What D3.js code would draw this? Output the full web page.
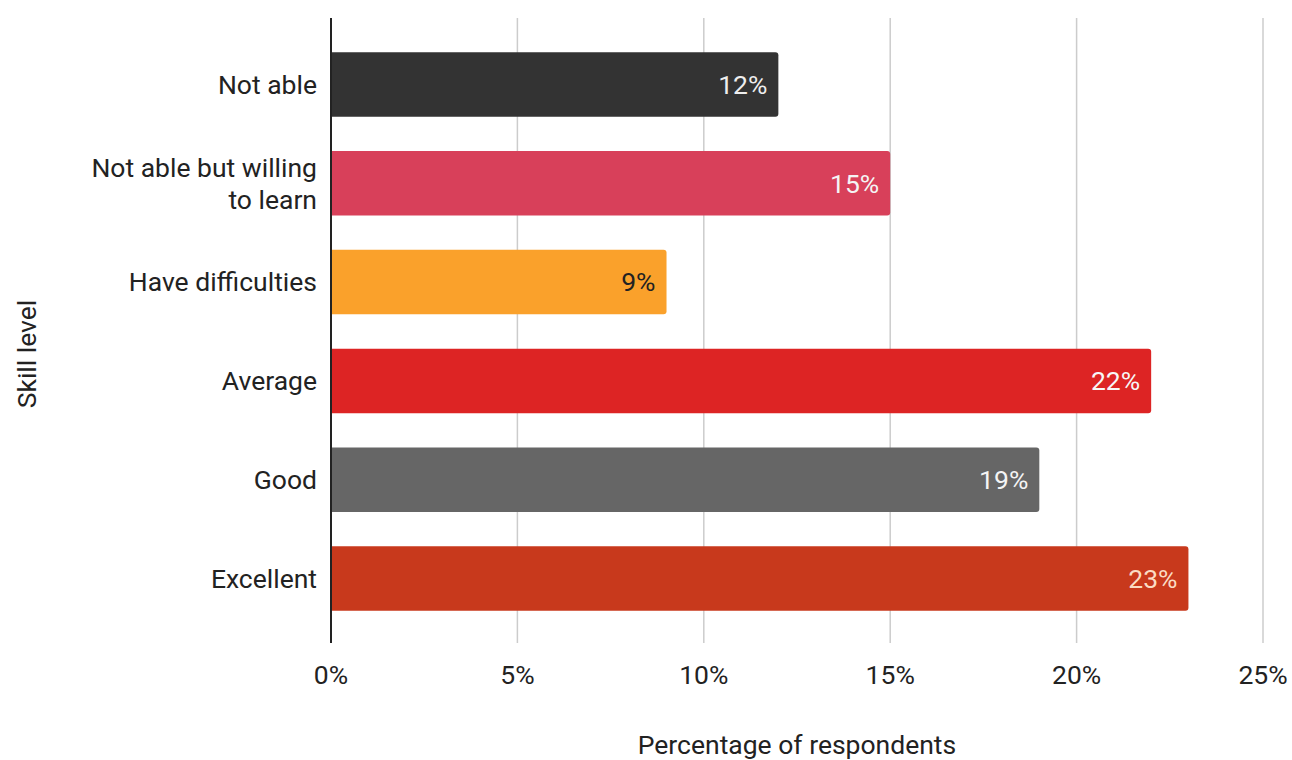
<!DOCTYPE html>
<html><head><meta charset="utf-8">
<script src="https://cdn.jsdelivr.net/npm/d3@7"></script>
<style>html,body{margin:0;padding:0;background:#fff;}svg{display:block;font-family:Roboto,"Noto Sans",sans-serif;}</style>
</head><body>
<svg id="c" width="1292" height="760"></svg>
<script>
const categories = ["Not able", "Not able but willing|to learn", "Have difficulties", "Average", "Good", "Excellent"];
const values = [12, 15, 9, 22, 19, 23];
const colors = ["#333333", "#d8405a", "#faa12b", "#dd2424", "#666666", "#c8391c"];
const labelColors = ["#eeeeee", "#f4f4f4", "#222222", "#f7f7f7", "#f4f4f4", "#fbdcc4"];
const xTicks = [0, 5, 10, 15, 20, 25];
const xTitle = "Percentage of respondents";
const yTitle = "Skill level";

const svg = d3.select("#c");
const plotTop = 18, plotBottom = 643;
const FS = 26.5;
const x = d3.scaleLinear().domain([0, 25]).range([331, 1263]);
const y = d3.scaleBand().domain(categories).range([35, 628]).paddingInner(0.348).paddingOuter(0.174);

// gridlines
svg.append("g").selectAll("line").data(xTicks.slice(1)).join("line")
  .attr("x1", d => x(d)).attr("x2", d => x(d))
  .attr("y1", plotTop).attr("y2", plotBottom)
  .attr("stroke", "#cccccc").attr("stroke-width", 1.5);

// bars with rounded right corners
const r = 3;
svg.append("g").selectAll("path").data(categories).join("path")
  .attr("d", (c, i) => {
    const x0 = x(0), x1 = x(values[i]), y0 = y(c), h = y.bandwidth();
    return `M${x0},${y0}H${x1 - r}Q${x1},${y0} ${x1},${y0 + r}V${y0 + h - r}Q${x1},${y0 + h} ${x1 - r},${y0 + h}H${x0}Z`;
  })
  .attr("fill", (c, i) => colors[i]);

// value labels
svg.append("g").selectAll("text").data(categories).join("text")
  .attr("x", (c, i) => x(values[i]) - 11)
  .attr("y", c => y(c) + y.bandwidth() / 2)
  .attr("dy", "0.35em")
  .attr("text-anchor", "end")
  .attr("font-size", FS)
  .attr("fill", (c, i) => labelColors[i])
  .text((c, i) => values[i] + "%");

// axis line
svg.append("line").attr("x1", x(0)).attr("x2", x(0)).attr("y1", plotTop).attr("y2", plotBottom)
  .attr("stroke", "#222").attr("stroke-width", 2);

// category labels
const cl = svg.append("g").selectAll("text").data(categories).join("text")
  .attr("text-anchor", "end")
  .attr("font-size", FS)
  .attr("fill", "#222");
cl.each(function(c) {
  const lines = c.split("|");
  const cy = y(c) + y.bandwidth() / 2;
  const lh = 32;
  const t = d3.select(this);
  lines.forEach((ln, k) => {
    t.append("tspan").attr("x", 317)
      .attr("y", cy + (k - (lines.length - 1) / 2) * lh)
      .attr("dy", "0.35em").text(ln);
  });
});

// x tick labels
svg.append("g").selectAll("text").data(xTicks).join("text")
  .attr("x", d => x(d)).attr("y", 675).attr("dy", "0.35em")
  .attr("text-anchor", "middle").attr("font-size", FS).attr("fill", "#222")
  .text(d => d + "%");

// axis titles
svg.append("text").attr("x", 797).attr("y", 745).attr("dy", "0.35em")
  .attr("text-anchor", "middle").attr("font-size", FS).attr("fill", "#222").text(xTitle);
svg.append("text").attr("transform", "translate(27,354) rotate(-90)").attr("dy", "0.35em")
  .attr("text-anchor", "middle").attr("font-size", FS).attr("fill", "#222").text(yTitle);
</script>
</body></html>
